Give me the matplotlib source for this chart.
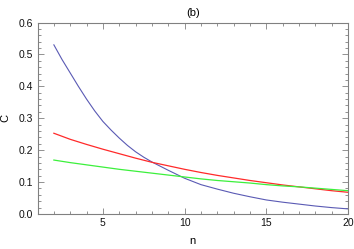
import matplotlib.pyplot as plt
from matplotlib.ticker import MultipleLocator, FormatStrFormatter

# values
n_blue = [2, 2.5, 3, 3.5, 4, 4.5, 5, 5.5, 6, 6.5, 7, 7.5, 8, 9, 10, 11, 12, 13,
          14, 15, 16, 17, 18, 19, 20]
c_blue = [0.530, 0.484, 0.442, 0.400, 0.360, 0.323, 0.290, 0.263, 0.238, 0.215,
          0.195, 0.178, 0.163, 0.137, 0.112, 0.092, 0.078, 0.065, 0.054, 0.044,
          0.037, 0.031, 0.025, 0.020, 0.016]
n = [2, 3, 4, 5, 6, 7, 8, 9, 10, 11, 12, 13, 14, 15, 16, 17, 18, 19, 20]
c_red = [0.253, 0.234, 0.218, 0.203, 0.189, 0.175, 0.162, 0.151, 0.140, 0.130,
         0.121, 0.113, 0.105, 0.098, 0.091, 0.085, 0.079, 0.073, 0.068]
c_green = [0.169, 0.161, 0.154, 0.147, 0.140, 0.134, 0.128, 0.122, 0.116, 0.110,
           0.105, 0.101, 0.097, 0.092, 0.088, 0.085, 0.081, 0.077, 0.073]

plt.rcParams['font.family'] = ['Liberation Sans', 'DejaVu Sans']

fig = plt.figure(figsize=(3.54, 2.49), dpi=100)
ax = fig.add_axes([0.106, 0.1406, 0.877, 0.769])

ax.plot(n_blue, c_blue, color='#5a5ab4', lw=0.8)
ax.plot(n, c_red, color='#ff2a2a', lw=0.9)
ax.plot(n, c_green, color='#3cf03c', lw=0.9)

ax.set_xlim(1, 20)
ax.set_ylim(0, 0.6)
ax.xaxis.set_major_locator(MultipleLocator(5))
ax.xaxis.set_minor_locator(MultipleLocator(1))
ax.yaxis.set_major_locator(MultipleLocator(0.1))
ax.yaxis.set_minor_locator(MultipleLocator(0.02))
ax.yaxis.set_major_formatter(FormatStrFormatter('%.1f'))

frame = '#808080'
for s in ax.spines.values():
    s.set_color(frame)
    s.set_linewidth(0.8)
ax.tick_params(which='both', direction='in', top=True, right=True,
               color=frame, width=0.6, labelsize=7.5, labelcolor='#111111')
ax.tick_params(which='major', length=4, pad=3)
ax.tick_params(which='minor', length=2)

ax.set_title('(b)', fontsize=8, pad=5)
ax.set_xlabel('n', fontsize=8, labelpad=6)
ax.set_ylabel('C', fontsize=8, labelpad=6)

fig.savefig('out.png', dpi=100)
